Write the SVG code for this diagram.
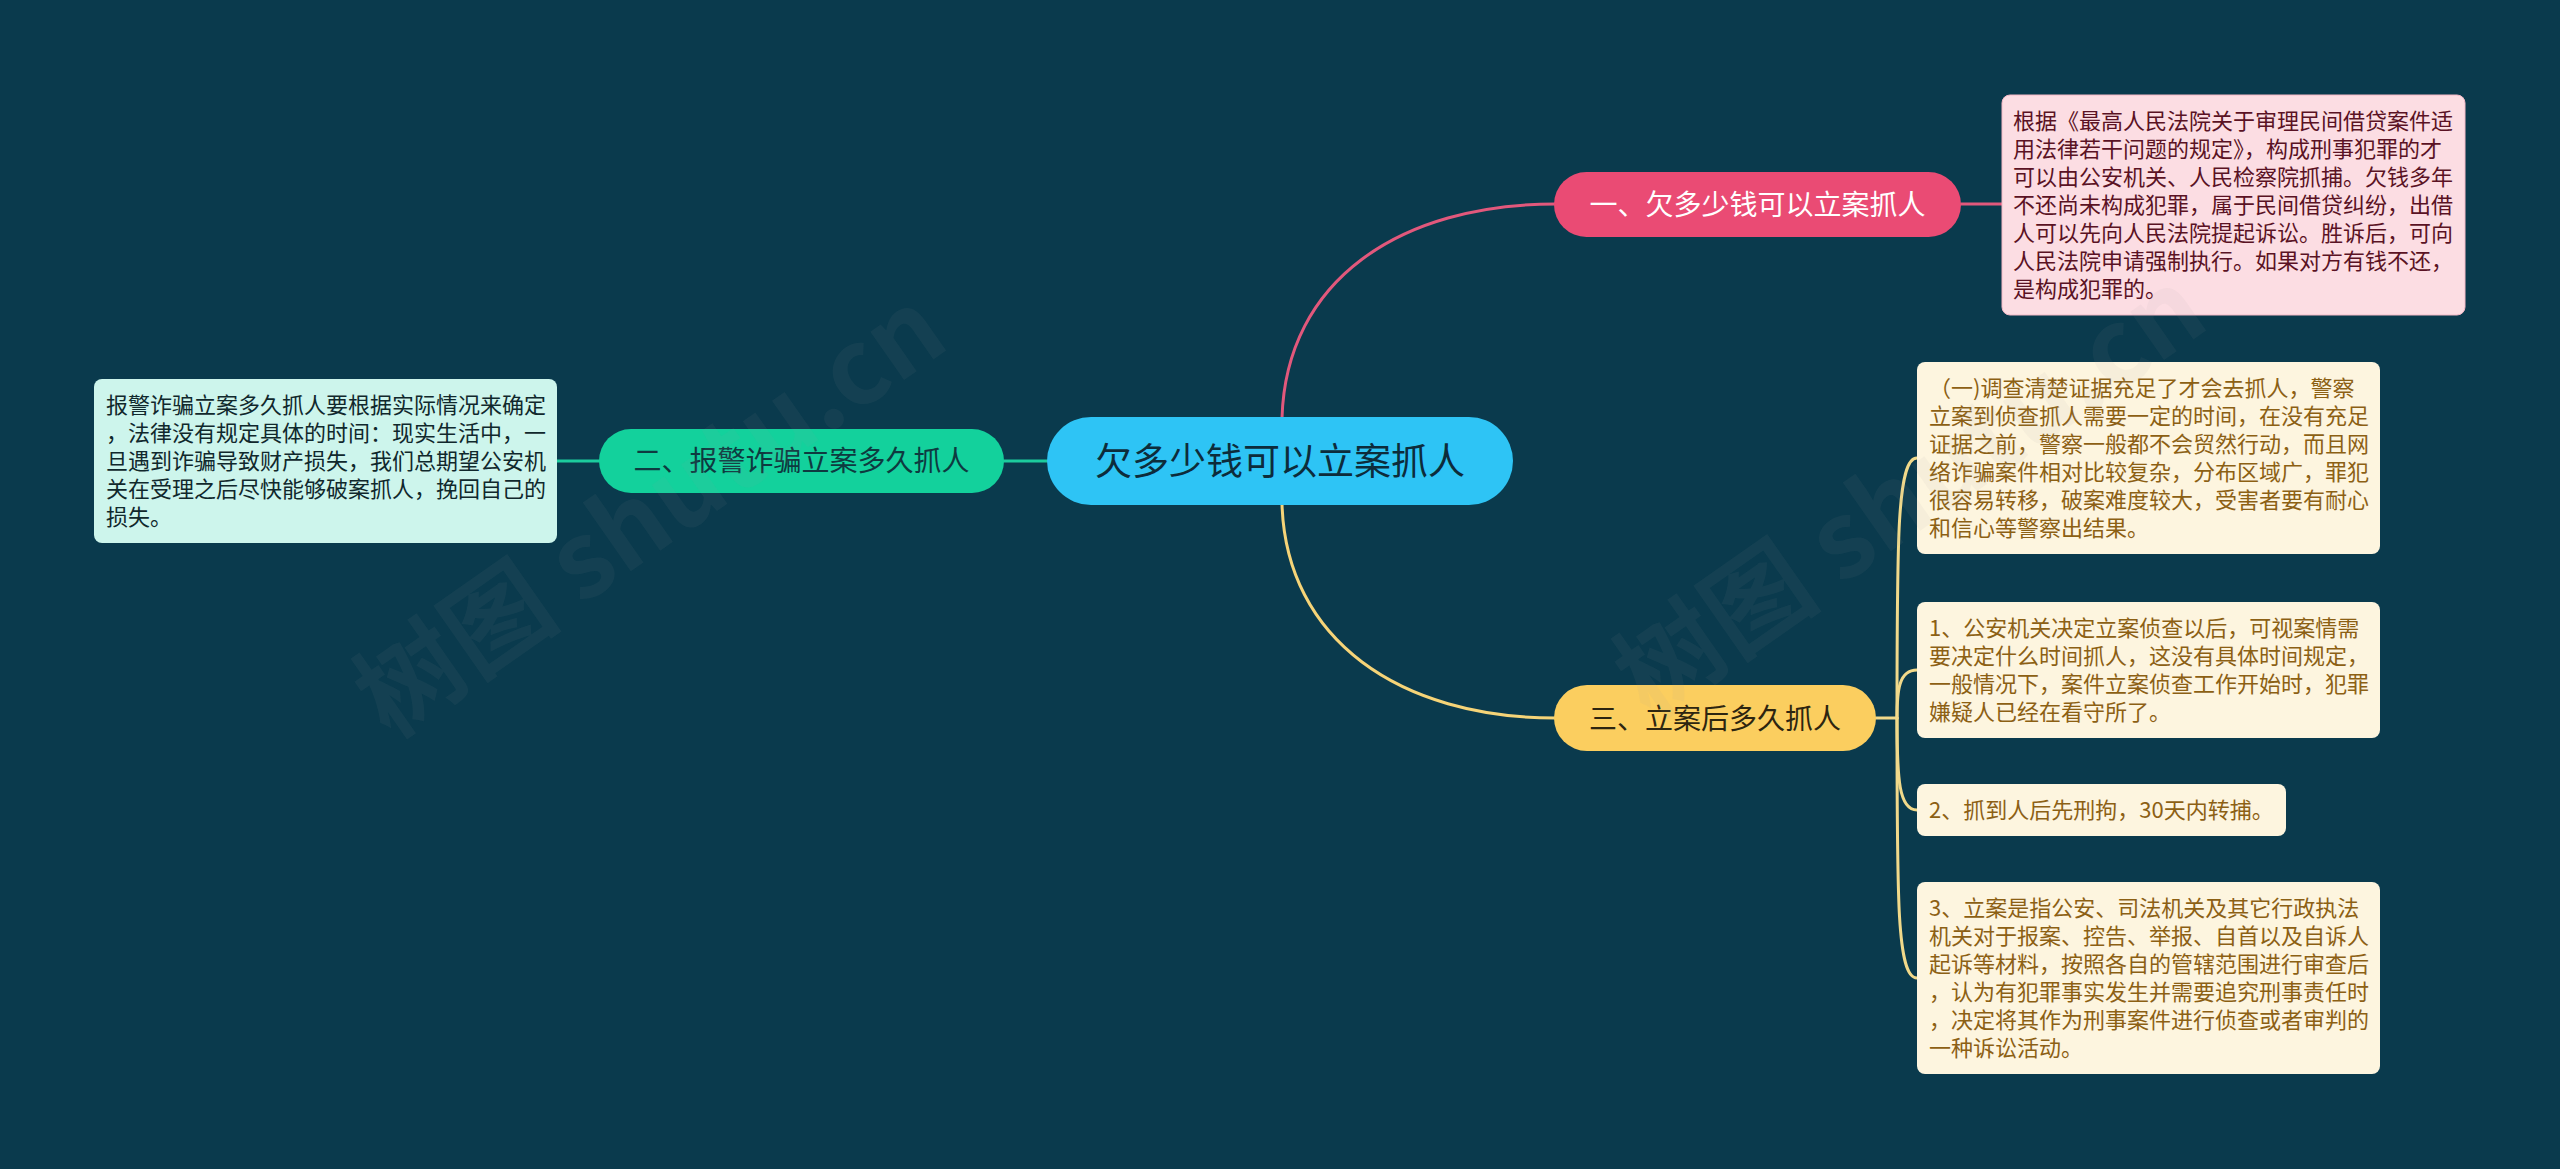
<svg xmlns="http://www.w3.org/2000/svg" width="2560" height="1169" viewBox="0 0 2560 1169">
<style>
  text { font-family: "Noto Sans CJK SC", "Noto Sans", sans-serif; }
  .leaf { font-size: 22px; }
  .topic { font-size: 28px; text-anchor: middle; }
  .conn { fill: none; stroke-width: 3; stroke-linecap: round; }
  .wm { font-size: 105px; font-weight: bold; fill: #9a9a9a; fill-opacity: 0.07; }
</style>
<rect x="0" y="0" width="2560" height="1169" fill="#0a3a4d"/>

<g id="connectors">
  <path class="conn" stroke="#e2587c" d="M1282 418 C1286 280 1400 204 1556 204"/>
  <path class="conn" stroke="#e2587c" d="M1961 204 H2002"/>
  <path class="conn" stroke="#f6d478" d="M1282 504 C1286 640 1400 718 1556 718"/>
  <path class="conn" stroke="#1ccc9e" d="M1004 461 H1047"/>
  <path class="conn" stroke="#1ccc9e" d="M557 461 H599"/>
  <g stroke="#f1d98a">
    <path class="conn" d="M1876 718 H1897"/>
    <path class="conn" d="M1897 718 C1897 540 1897 458 1917 458"/>
    <path class="conn" d="M1897 718 C1897 690 1899 670 1917 670"/>
    <path class="conn" d="M1897 718 C1897 780 1899 810 1917 810"/>
    <path class="conn" d="M1897 718 C1897 900 1897 978 1917 978"/>
  </g>
</g>

<g id="center">
  <rect x="1047" y="417" width="466" height="88" rx="44" fill="#2ec4f5"/>
  <text x="1280" y="475" font-size="37" text-anchor="middle" fill="#0d2c3b">欠多少钱可以立案抓人</text>
</g>

<g id="topic1">
  <rect x="1554" y="172" width="407" height="65" rx="32.5" fill="#ea4b74"/>
  <text class="topic" x="1757.5" y="215" fill="#ffffff">一、欠多少钱可以立案抓人</text>
</g>

<g id="topic2">
  <rect x="599" y="429" width="405" height="64" rx="32" fill="#13d19c"/>
  <text class="topic" x="801.5" y="471" fill="#0e3a40">二、报警诈骗立案多久抓人</text>
</g>

<g id="topic3">
  <rect x="1554" y="685" width="322" height="66" rx="33" fill="#fbce5f"/>
  <text class="topic" x="1715" y="729" fill="#2d2510">三、立案后多久抓人</text>
</g>

<g id="leaf1">
  <rect x="2002" y="95" width="463" height="220" rx="8" fill="#fcdde3" stroke="#f3b8c6" stroke-width="1"/>
  <text class="leaf" fill="#5a1224">
    <tspan x="2013" y="129">根据《最高人民法院关于审理民间借贷案件适</tspan>
    <tspan x="2013" y="157">用法律若干问题的规定》，构成刑事犯罪的才</tspan>
    <tspan x="2013" y="185">可以由公安机关、人民检察院抓捕。欠钱多年</tspan>
    <tspan x="2013" y="213">不还尚未构成犯罪，属于民间借贷纠纷，出借</tspan>
    <tspan x="2013" y="241">人可以先向人民法院提起诉讼。胜诉后，可向</tspan>
    <tspan x="2013" y="269">人民法院申请强制执行。如果对方有钱不还，</tspan>
    <tspan x="2013" y="297">是构成犯罪的。</tspan>
  </text>
</g>

<g id="leaf2">
  <rect x="94" y="379" width="463" height="164" rx="8" fill="#cdf5ec"/>
  <text class="leaf" fill="#10282c">
    <tspan x="106" y="413">报警诈骗立案多久抓人要根据实际情况来确定</tspan>
    <tspan x="106" y="441">，法律没有规定具体的时间：现实生活中，一</tspan>
    <tspan x="106" y="469">旦遇到诈骗导致财产损失，我们总期望公安机</tspan>
    <tspan x="106" y="497">关在受理之后尽快能够破案抓人，挽回自己的</tspan>
    <tspan x="106" y="525">损失。</tspan>
  </text>
</g>

<g id="leaf3a">
  <rect x="1917" y="362" width="463" height="192" rx="8" fill="#fdf5df"/>
  <text class="leaf" fill="#8c6014">
    <tspan x="1929" y="396">（一)调查清楚证据充足了才会去抓人，警察</tspan>
    <tspan x="1929" y="424">立案到侦查抓人需要一定的时间，在没有充足</tspan>
    <tspan x="1929" y="452">证据之前，警察一般都不会贸然行动，而且网</tspan>
    <tspan x="1929" y="480">络诈骗案件相对比较复杂，分布区域广，罪犯</tspan>
    <tspan x="1929" y="508">很容易转移，破案难度较大，受害者要有耐心</tspan>
    <tspan x="1929" y="536">和信心等警察出结果。</tspan>
  </text>
</g>

<g id="leaf3b">
  <rect x="1917" y="602" width="463" height="136" rx="8" fill="#fdf5df"/>
  <text class="leaf" fill="#8c6014">
    <tspan x="1929" y="636">1、公安机关决定立案侦查以后，可视案情需</tspan>
    <tspan x="1929" y="664">要决定什么时间抓人，这没有具体时间规定，</tspan>
    <tspan x="1929" y="692">一般情况下，案件立案侦查工作开始时，犯罪</tspan>
    <tspan x="1929" y="720">嫌疑人已经在看守所了。</tspan>
  </text>
</g>

<g id="leaf3c">
  <rect x="1917" y="784" width="369" height="52" rx="8" fill="#fdf5df"/>
  <text class="leaf" fill="#8c6014">
    <tspan x="1929" y="818">2、抓到人后先刑拘，30天内转捕。</tspan>
  </text>
</g>

<g id="leaf3d">
  <rect x="1917" y="882" width="463" height="192" rx="8" fill="#fdf5df"/>
  <text class="leaf" fill="#8c6014">
    <tspan x="1929" y="916">3、立案是指公安、司法机关及其它行政执法</tspan>
    <tspan x="1929" y="944">机关对于报案、控告、举报、自首以及自诉人</tspan>
    <tspan x="1929" y="972">起诉等材料，按照各自的管辖范围进行审查后</tspan>
    <tspan x="1929" y="1000">，认为有犯罪事实发生并需要追究刑事责任时</tspan>
    <tspan x="1929" y="1028">，决定将其作为刑事案件进行侦查或者审判的</tspan>
    <tspan x="1929" y="1056">一种诉讼活动。</tspan>
  </text>
</g>

<g id="watermarks">
  <text class="wm" transform="translate(390 740) rotate(-35)">树图 shutu.cn</text>
  <text class="wm" transform="translate(1650 720) rotate(-35)">树图 shutu.cn</text>
</g>
</svg>
